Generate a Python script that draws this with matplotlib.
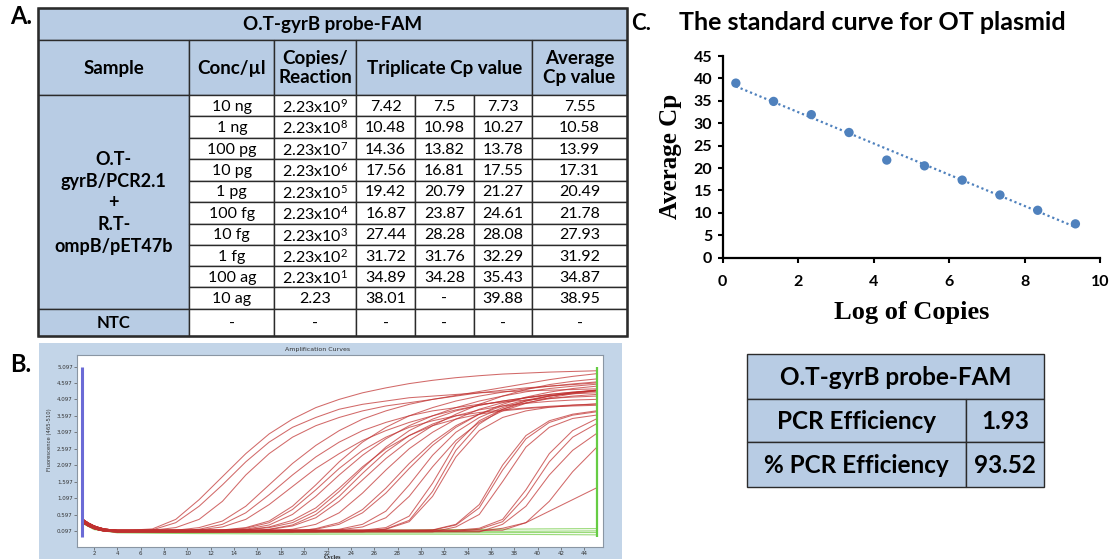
import numpy as np
import matplotlib
matplotlib.use("Agg")
import matplotlib.pyplot as plt
from matplotlib.patches import Rectangle

plt.rcParams['font.family'] = ['Lato', 'DejaVu Sans']
plt.rcParams['mathtext.default'] = 'regular'

W, H = 1116, 559
BLUE = '#b8cce4'
EDGE = '#2b2b2b'

# ---------------- data: panel A table ----------------
title_a = "O.T-gyrB probe-FAM"
head_a = ["Sample", "Conc/µl", "Copies/\nReaction", "Triplicate Cp value", "Average\nCp value"]
sample_name = "O.T-\ngyrB/PCR2.1\n+\nR.T-\nompB/pET47b"
conc = ["10 ng", "1 ng", "100 pg", "10 pg", "1 pg", "100 fg", "10 fg", "1 fg", "100 ag", "10 ag"]
copies_txt = ["2.23x10$^{9}$", "2.23x10$^{8}$", "2.23x10$^{7}$", "2.23x10$^{6}$", "2.23x10$^{5}$",
              "2.23x10$^{4}$", "2.23x10$^{3}$", "2.23x10$^{2}$", "2.23x10$^{1}$", "2.23"]
copies = [2.23e9, 2.23e8, 2.23e7, 2.23e6, 2.23e5, 2.23e4, 2.23e3, 2.23e2, 2.23e1, 2.23]
cp1 = ["7.42", "10.48", "14.36", "17.56", "19.42", "16.87", "27.44", "31.72", "34.89", "38.01"]
cp2 = ["7.5", "10.98", "13.82", "16.81", "20.79", "23.87", "28.28", "31.76", "34.28", "-"]
cp3 = ["7.73", "10.27", "13.78", "17.55", "21.27", "24.61", "28.08", "32.29", "35.43", "39.88"]
avg_cp = [7.55, 10.58, 13.99, 17.31, 20.49, 21.78, 27.93, 31.92, 34.87, 38.95]

# ---------------- data: panel C ----------------
eq_text = "y = -3.4875x + 39.445"
r2_text = "R² = 0.9922"
eff_labels = ["PCR Efficiency", "% PCR Efficiency"]
eff_values = ["1.93", "93.52"]

# ---------------- data: panel B amplification curves ----------------
# readings at cycles 1..4 (start), then every odd cycle 5..45
start_cyc = [1, 1.5, 2, 2.5, 3, 4]
base_start = [[0.46, 0.34, 0.25, 0.19, 0.15, 0.12],
              [0.41, 0.29, 0.20, 0.15, 0.12, 0.09],
              [0.36, 0.25, 0.17, 0.12, 0.09, 0.07]]
base_level = [0.12, 0.09, 0.07]
odd_cyc = list(range(5, 46, 2))

# (first odd cycle off the baseline, readings from there to cycle 45)
curves = [
    (7, [0.16, 0.45, 1.05, 1.75, 2.45, 3.05, 3.5, 3.85, 4.1, 4.3, 4.45, 4.58, 4.68, 4.76, 4.82, 4.87, 4.9, 4.93, 4.95, 4.97]),
    (7, [0.13, 0.35, 0.85, 1.5, 2.2, 2.8, 3.25, 3.55, 3.8, 3.95, 4.05, 4.15, 4.2, 4.25, 4.3, 4.33, 4.36, 4.38, 4.4, 4.42]),
    (7, [0.12, 0.2, 0.45, 1.0, 1.8, 2.45, 2.95, 3.3, 3.55, 3.75, 3.9, 4.0, 4.1, 4.2, 4.3, 4.38, 4.45, 4.5, 4.55, 4.6]),
    (9, [0.12, 0.2, 0.4, 0.85, 1.5, 2.15, 2.7, 3.15, 3.5, 3.75, 3.95, 4.1, 4.22, 4.34, 4.46, 4.58, 4.7, 4.8, 4.88]),
    (11, [0.15, 0.3, 0.65, 1.2, 1.8, 2.35, 2.8, 3.15, 3.4, 3.6, 3.75, 3.85, 3.95, 4.02, 4.08, 4.13, 4.17, 4.2]),
    (11, [0.13, 0.22, 0.45, 0.9, 1.45, 2.0, 2.45, 2.85, 3.15, 3.4, 3.6, 3.78, 3.92, 4.05, 4.15, 4.25, 4.32, 4.38]),
    (13, [0.13, 0.2, 0.4, 0.85, 1.5, 2.2, 2.8, 3.25, 3.6, 3.85, 4.05, 4.2, 4.32, 4.42, 4.5, 4.57, 4.63]),
    (13, [0.12, 0.18, 0.35, 0.75, 1.35, 2.0, 2.55, 2.95, 3.25, 3.45, 3.6, 3.7, 3.78, 3.84, 3.89, 3.93, 3.96]),
    (15, [0.15, 0.28, 0.6, 1.15, 1.8, 2.4, 2.9, 3.3, 3.6, 3.85, 4.05, 4.2, 4.33, 4.43, 4.5, 4.56]),
    (15, [0.13, 0.2, 0.35, 0.7, 1.3, 2.0, 2.65, 3.15, 3.5, 3.75, 3.92, 4.05, 4.15, 4.22, 4.27, 4.3]),
    (17, [0.15, 0.28, 0.6, 1.15, 1.85, 2.5, 3.0, 3.35, 3.6, 3.78, 3.9, 3.98, 4.04, 4.08, 4.1]),
    (17, [0.14, 0.25, 0.5, 1.0, 1.65, 2.3, 2.85, 3.3, 3.65, 3.95, 4.2, 4.4, 4.55, 4.65, 4.72]),
    (15, [0.13, 0.22, 0.42, 0.8, 1.4, 2.05, 2.6, 3.0, 3.3, 3.5, 3.65, 3.75, 3.82, 3.87, 3.9, 3.92]),
    (19, [0.15, 0.3, 0.65, 1.25, 1.95, 2.6, 3.1, 3.5, 3.8, 4.0, 4.15, 4.25, 4.32, 4.37]),
    (21, [0.17, 0.35, 0.75, 1.4, 2.15, 2.8, 3.3, 3.65, 3.9, 4.08, 4.2, 4.3, 4.37]),
    (21, [0.15, 0.3, 0.65, 1.25, 2.0, 2.7, 3.25, 3.65, 3.95, 4.17, 4.32, 4.43, 4.5]),
    (23, [0.15, 0.3, 0.7, 1.5, 2.4, 3.1, 3.55, 3.85, 4.05, 4.2, 4.3, 4.38]),
    (23, [0.13, 0.22, 0.5, 1.15, 2.05, 2.85, 3.4, 3.75, 3.98, 4.15, 4.27, 4.35]),
    (25, [0.12, 0.2, 0.55, 1.55, 2.75, 3.45, 3.8, 4.0, 4.12, 4.2, 4.25]),
    (27, [0.16, 0.42, 1.3, 2.55, 3.35, 3.8, 4.05, 4.2, 4.3, 4.36]),
    (27, [0.15, 0.38, 1.15, 2.35, 3.15, 3.55, 3.75, 3.86, 3.92, 3.96]),
    (31, [0.13, 0.3, 0.9, 2.1, 3.0, 3.45, 3.65, 3.75]),
    (31, [0.12, 0.28, 0.8, 1.95, 2.9, 3.4, 3.62, 3.72]),
    (33, [0.22, 0.6, 1.6, 2.65, 3.25, 3.52, 3.62]),
    (35, [0.18, 0.45, 1.35, 2.45, 3.15, 3.5]),
    (35, [0.15, 0.38, 1.15, 2.2, 2.95, 3.35]),
    (37, [0.3, 0.85, 1.8, 2.55, 3.05]),
    (39, [0.35, 1.0, 1.9, 2.62]),
    (37, [0.18, 0.35, 0.7, 1.05, 1.4]),
]

# NTC curves (green)
ntc_cyc = [1, 2, 4, 10, 20, 30, 40, 45]
ntc = [
    [0.38, 0.20, 0.10, 0.09, 0.10, 0.13, 0.16, 0.17],
    [0.36, 0.18, 0.08, 0.06, 0.06, 0.08, 0.09, 0.10],
    [0.34, 0.16, 0.06, 0.04, 0.04, 0.04, 0.05, 0.05],
    [0.33, 0.14, 0.04, 0.02, 0.00, 0.00, -0.01, -0.02],
]
start_marker, end_marker = 1.0, 45.1
yticks_b = [0.097 + 0.5 * k for k in range(11)]

# ---------------- figure ----------------
fig = plt.figure(figsize=(W / 100, H / 100), dpi=100)
ax0 = fig.add_axes([0, 0, 1, 1])
ax0.set_xlim(0, W)
ax0.set_ylim(H, 0)
ax0.axis('off')


def cell(x0, x1, y0, y1, fc, text="", **kw):
    ax0.add_patch(Rectangle((x0, y0), x1 - x0, y1 - y0, facecolor=fc, edgecolor=EDGE, lw=1.0))
    if text:
        ax0.text((x0 + x1) / 2, (y0 + y1) / 2 + 1, text, ha='center', va='center', **kw)


# panel labels
ax0.text(21, 17, "A.", fontsize=17, fontweight='bold', ha='center', va='center')
ax0.text(21, 364, "B.", fontsize=17, fontweight='bold', ha='center', va='center')
ax0.text(641, 23, "C.", fontsize=16, fontweight='bold', ha='center', va='center')

# ---- table A ----
cols = [38, 189.3, 274.4, 356.2, 415.1, 473.6, 532.1, 627]
rows = [8, 39.5, 95, 116.4, 137.8, 159.3, 180.7, 202.1, 223.6, 245, 266.4, 287.1, 308.9, 336]
hb = dict(fontsize=13.5, fontweight='bold')
db = dict(fontsize=11.5)
cell(cols[0], cols[-1], rows[0], rows[1], BLUE, title_a, **hb)
head_spans = [(0, 1), (1, 2), (2, 3), (3, 6), (6, 7)]
for (a, b), txt in zip(head_spans, head_a):
    cell(cols[a], cols[b], rows[1], rows[2], BLUE, txt, linespacing=1.15, **hb)
cell(cols[0], cols[1], rows[2], rows[12], BLUE, sample_name, linespacing=1.35, fontsize=13, fontweight='bold')
for i in range(len(conc)):
    y0, y1 = rows[2 + i], rows[3 + i]
    vals = [conc[i], copies_txt[i], cp1[i], cp2[i], cp3[i], f"{avg_cp[i]:.2f}"]
    for j, v in enumerate(vals):
        cell(cols[1 + j], cols[2 + j], y0, y1, 'white', v, **db)
cell(cols[0], cols[1], rows[12], rows[13], BLUE, "NTC", fontsize=12, fontweight='bold')
for j in range(6):
    cell(cols[1 + j], cols[2 + j], rows[12], rows[13], 'white', "-", **db)
ax0.add_patch(Rectangle((cols[0], rows[0]), cols[-1] - cols[0], rows[-1] - rows[0],
                        fill=False, edgecolor=EDGE, lw=1.8))

# ---- table C ----
cols_c = [746.7, 965.7, 1044]
rows_c = [354, 399, 442, 486.7]
cb = dict(fontsize=17.5, fontweight='bold')
cell(cols_c[0], cols_c[2], rows_c[0], rows_c[1], BLUE, title_a, **cb)
for i in range(2):
    cell(cols_c[0], cols_c[1], rows_c[1 + i], rows_c[2 + i], BLUE, eff_labels[i], **cb)
    cell(cols_c[1], cols_c[2], rows_c[1 + i], rows_c[2 + i], BLUE, eff_values[i], **cb)

# ---- panel B frame ----
ax0.add_patch(Rectangle((39, 343), 622 - 39, H - 343, facecolor='#c3d5e8', edgecolor='none'))
ax0.text(318, 349.5, "Amplification Curves", fontsize=4.5, color='#333333', ha='center', va='center',
         family=['DejaVu Sans'])
ax0.text(333, 557.5, "Cycles", fontsize=4.5, fontweight='bold', color='#222222', ha='center', va='center',
         family=['Liberation Serif'])
ax0.text(49, 440, "Fluorescence (465-510)", fontsize=3.8, rotation=90, color='#333333',
         ha='center', va='center', family=['DejaVu Sans'])

axb = fig.add_axes([77 / W, 1 - 547 / H, (603 - 77) / W, (547 - 355) / H])
axb.set_xlim(0.54, 45.6)
axb.set_ylim(-0.39, 5.45)
for g in ntc:
    axb.plot(ntc_cyc, g, color='#8fd66a', lw=0.8, alpha=0.9)
for k, (first, vals) in enumerate(curves):
    v = k % 3
    ys = list(base_start[v])
    for c in odd_cyc:
        ys.append(vals[(c - first) // 2] if c >= first else base_level[v])
    axb.plot(start_cyc + odd_cyc, ys, color='#c0302f', lw=0.75, alpha=0.72)
axb.vlines(start_marker, -0.1, 5.097, color='#6b6bd6', lw=2.2)
axb.vlines(end_marker, -0.1, 5.097, color='#66cc44', lw=1.6)
axb.set_xticks(range(2, 45, 2))
axb.set_yticks(yticks_b)
axb.set_yticklabels([f"{t:.3f}" for t in yticks_b])
axb.tick_params(labelsize=4.0, length=2, width=0.5, pad=1.0, colors='#555555', labelcolor='#333333')
for lbl in axb.get_xticklabels() + axb.get_yticklabels():
    lbl.set_family(['DejaVu Sans'])
for s in axb.spines.values():
    s.set_color('#8a96a3')
    s.set_linewidth(0.8)

# ---- panel C standard curve ----
ax0.text(872.5, 22, "The standard curve for OT plasmid", fontsize=18, fontweight='bold',
         ha='center', va='center')
ax0.text(1013, 65, eq_text, fontsize=11.5, fontweight='bold', ha='center', va='center')
ax0.text(1014, 86, r2_text, fontsize=11.5, fontweight='bold', ha='center', va='center')

axc = fig.add_axes([722.7 / W, 1 - 257.7 / H, 377.3 / W, 201.7 / H])
log_copies = np.log10(copies)
slope, icpt = np.polyfit(log_copies, avg_cp, 1)
xs = np.array([log_copies.min(), log_copies.max()])
axc.plot(xs, slope * xs + icpt, color='#4f81bd', lw=1.6, linestyle=(0, (1, 1.3)))
axc.scatter(log_copies, avg_cp, s=45, color='#4f81bd', zorder=3, edgecolors='none')
axc.set_xlim(0, 10)
axc.set_ylim(0, 45)
axc.set_xticks(range(0, 11, 2))
axc.set_yticks(range(0, 46, 5))
axc.spines['top'].set_visible(False)
axc.spines['right'].set_visible(False)
for s in ['left', 'bottom']:
    axc.spines[s].set_linewidth(1.6)
axc.tick_params(axis='both', direction='out', length=3.6, width=1.5, labelsize=11.5)
axc.tick_params(axis='x', pad=8.5)
axc.tick_params(axis='y', pad=4)
for lbl in axc.get_xticklabels() + axc.get_yticklabels():
    lbl.set_fontweight('bold')
axc.set_xlabel("Log of Copies", fontsize=19, fontweight='bold', family=['Liberation Serif'], va='center')
axc.set_ylabel("Average Cp", fontsize=18, fontweight='bold', family=['Liberation Serif'], va='center')
axc.xaxis.set_label_coords(0.5, -(312 - 257.7) / 201.7)
axc.yaxis.set_label_coords(-(722.7 - 670) / 377.3, 0.5)

fig.savefig("out.png", dpi=100)
